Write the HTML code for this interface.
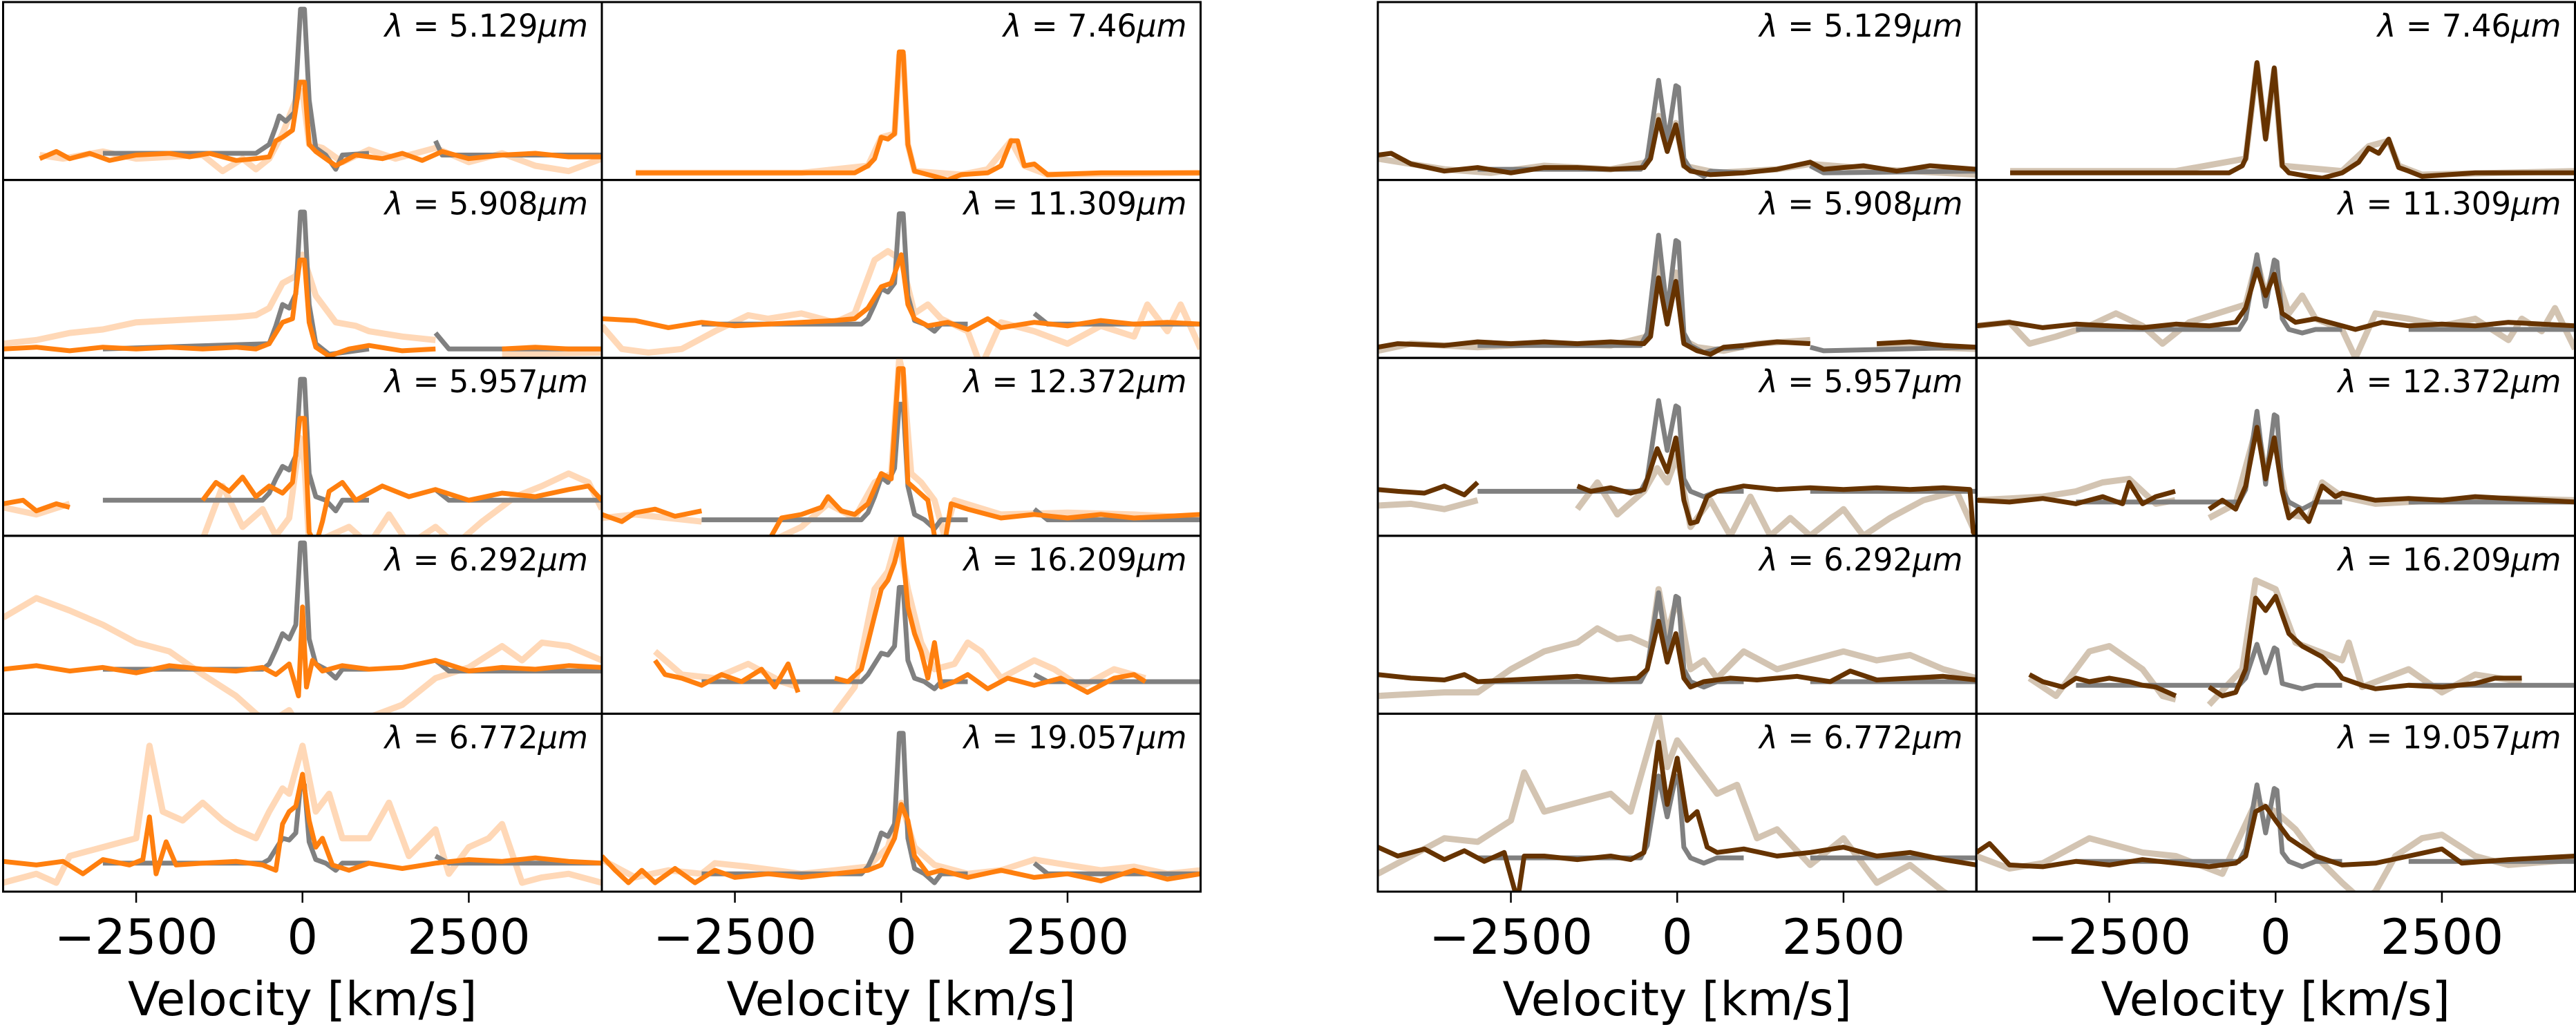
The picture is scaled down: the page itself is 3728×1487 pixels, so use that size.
<!DOCTYPE html>
<html><head><meta charset="utf-8"><title>Line profiles</title>
<style>
html,body{margin:0;padding:0;background:#fff;}
svg{display:block;}
text{font-family:"DejaVu Sans","Liberation Sans",sans-serif;fill:#000;}
</style></head>
<body>
<svg id="fig" xmlns="http://www.w3.org/2000/svg" width="3728" height="1487" viewBox="0 0 3728 1487"></svg>
<script>
// ---- axis tick data ----
const tickValues = [-2500, 0, 2500];
const tickLabels = ["\u22122500", "0", "2500"];
const velRange = [-4500, 4500];

// ---- labels ----
const labelsA = ["5.129", "5.908", "5.957", "6.292", "6.772"];
const labelsB = ["7.46", "11.309", "12.372", "16.209", "19.057"];

// ---- series data: [velocity km/s, relative flux % of panel height], null = gap ----
// Left group, column 1 (orange)
const gA0 = [[-3000,15],[-700,15],[-500,20],[-400,30],[-350,36],[-250,33],[-120,38],[-30,96],[30,96],[100,45],[200,18],[350,14],[500,6],[600,14],[1000,15],null,[2000,22],[2100,14],[4500,14]];
const oA0 = [[-3950,12],[-3700,16],[-3500,12],[-3200,15],[-2900,11],[-2500,14],[-2000,15],[-1700,13],[-1400,15],[-1000,11],[-700,12],[-500,13],[-400,22],[-300,24],[-150,28],[-40,55],[30,55],[100,20],[200,16],[500,8],[800,14],[1200,12],[1500,15],[1800,11],[2100,16],[2500,12],[3000,14],[3500,15],[4000,13],[4500,13]];
const lA0 = [[-3950,14],[-3600,12],[-3000,16],[-2500,12],[-1500,14],[-1200,5],[-900,12],[-700,6],[-500,12],[-300,26],[-100,45],[0,50],[100,20],[300,18],[600,10],[1000,17],[1400,12],[2000,18],[2500,10],[3000,15],[3500,8],[4000,5],[4500,12]];
const gA1 = [[-3000,5],[-500,8],[-400,18],[-300,30],[-200,28],[-100,36],[-30,82],[30,82],[100,30],[200,8],[400,2],[600,3],[1000,5],null,[2000,14],[2200,5],[4500,5]];
const oA1 = [[-4500,5],[-4000,6],[-3500,4],[-3000,6],[-2500,5],[-2000,6],[-1500,5],[-1000,6],[-700,5],[-500,8],[-300,20],[-150,22],[-40,55],[30,55],[100,20],[200,6],[400,1],[700,5],[1000,7],[1500,4],[2000,5],null,[3000,5],[3500,6],[4000,5],[4500,5]];
const lA1 = [[-4500,8],[-4000,10],[-3500,14],[-3000,16],[-2500,20],[-2000,21],[-1500,22],[-1000,23],[-700,24],[-500,28],[-300,42],[-100,46],[0,58],[200,35],[500,20],[800,18],[1000,15],[1500,12],[2000,10],null,[3000,2],[4500,3]];
const gA2 = [[-3000,20],[-600,20],[-500,24],[-400,32],[-300,39],[-200,37],[-100,45],[-30,88],[30,88],[100,35],[200,22],[350,20],[500,14],[600,20],[1000,20],null,[2000,26],[2200,20],[4500,20]];
const oA2 = [[-4500,18],[-4200,20],[-4000,14],[-3700,18],[-3500,16],null,[-1500,20],[-1300,30],[-1100,25],[-900,33],[-700,22],[-500,28],[-300,24],[-150,30],[-40,66],[30,66],[100,2],[200,-5],[300,8],[400,25],[600,30],[800,20],[1200,28],[1600,22],[2000,26],[2500,20],[3000,24],[3500,22],[4000,26],[4300,28],[4500,20]];
const lA2 = [[-4500,16],[-4000,12],[-3500,18],null,[-1500,-2],[-1200,28],[-900,5],[-600,15],[-400,0],[-200,10],[-40,55],[30,40],[100,-5],[400,0],[700,5],[1000,-5],[1300,12],[1600,-5],[2000,5],[2300,-5],[2700,8],[3200,22],[3600,28],[4000,35],[4300,30],[4500,15]];
const gA3 = [[-3000,25],[-600,25],[-500,28],[-400,36],[-300,45],[-200,42],[-100,50],[-30,96],[30,96],[100,42],[200,28],[350,25],[500,20],[600,25],[1000,25],null,[2000,30],[2200,24],[4500,24]];
const oA3 = [[-4500,25],[-4000,27],[-3500,24],[-3000,26],[-2500,23],[-2000,27],[-1500,25],[-1000,24],[-600,26],[-400,22],[-200,28],[-60,10],[0,60],[60,15],[150,30],[300,24],[600,27],[1000,25],[1500,26],[2000,30],[2500,24],[3000,26],[3500,25],[4000,27],[4500,26]];
const lA3 = [[-4500,54],[-4000,65],[-3500,58],[-3000,50],[-2500,40],[-2000,35],[-1500,22],[-1000,10],[-700,0],[-500,-5],[-200,2],[0,-10],[300,-5],[600,-5],[1000,-2],[1500,5],[2000,20],[2500,26],[3000,38],[3300,30],[3600,40],[4000,38],[4500,30]];
const gA4 = [[-3000,16],[-600,16],[-500,18],[-400,24],[-300,30],[-200,29],[-100,33],[-30,60],[30,60],[100,28],[200,18],[350,16],[500,12],[600,16],[1000,16],null,[2000,20],[2200,16],[4500,16]];
const oA4 = [[-4500,17],[-4000,15],[-3600,17],[-3300,10],[-3000,18],[-2600,15],[-2400,18],[-2300,42],[-2200,10],[-2050,28],[-1900,15],[-1500,16],[-1000,17],[-600,15],[-400,12],[-300,38],[-200,45],[-100,48],[0,66],[100,40],[200,25],[300,30],[450,15],[700,12],[1000,16],[1500,13],[2000,16],[2500,18],[3000,17],[3500,19],[4000,17],[4500,16]];
const lA4 = [[-4500,5],[-4000,10],[-3700,5],[-3500,20],[-3000,25],[-2700,28],[-2500,30],[-2300,82],[-2100,45],[-1800,40],[-1500,50],[-1200,40],[-1000,35],[-700,30],[-500,45],[-300,58],[-200,55],[0,82],[200,45],[400,55],[600,30],[1000,30],[1300,50],[1600,20],[2000,35],[2200,10],[2500,25],[2800,30],[3000,38],[3300,5],[3600,8],[4000,10],[4500,5]];

// Left group, column 2 (orange)
const oB0 = [[-3990,4],[-3000,4],[-1500,4],[-700,4],[-500,8],[-400,12],[-300,24],[-200,23],[-100,26],[-30,72],[30,72],[100,20],[200,5],[500,2],[700,0],[900,3],[1300,4],[1500,8],[1650,22],[1750,22],[1850,8],[2000,9],[2200,3],[3000,4],[4500,4]];
const lB0 = [[-3990,4],[-1500,4],[-500,8],[-300,24],[-100,26],[-30,70],[30,70],[100,20],[200,5],[900,3],[1300,6],[1650,22],[1850,8],[2200,3],[4500,4]];
const gB1 = [[-3000,19],[-600,19],[-500,22],[-400,30],[-300,39],[-200,37],[-100,42],[-30,81],[30,81],[100,35],[200,21],[350,19],[500,15],[600,19],[1000,19],null,[2000,25],[2200,19],[4500,19]];
const oB1 = [[-4500,22],[-4000,21],[-3500,17],[-3000,20],[-2500,18],[-2000,19],[-1500,20],[-1000,21],[-700,22],[-500,28],[-300,40],[-150,42],[0,58],[100,30],[200,22],[400,18],[700,20],[1000,16],[1300,22],[1500,17],[2000,20],[2500,18],[3000,21],[3500,19],[4000,20],[4500,19]];
const lB1 = [[-4500,18],[-4200,5],[-3800,3],[-3300,5],[-2800,15],[-2300,24],[-2000,22],[-1500,25],[-1000,20],[-700,25],[-400,55],[-200,60],[0,55],[200,25],[400,30],[600,22],[1000,15],[1200,-5],[1500,20],[2000,15],[2500,8],[3000,18],[3500,12],[3700,30],[4000,15],[4200,30],[4500,5]];
const gB2 = [[-3000,9],[-600,9],[-500,13],[-400,22],[-300,33],[-200,30],[-100,38],[-30,74],[30,74],[100,28],[200,12],[350,9],[500,4],[600,9],[1000,9],null,[2000,15],[2200,9],[4500,9]];
const oB2 = [[-4500,12],[-4200,8],[-4000,13],[-3700,15],[-3400,11],[-3000,14],null,[-1950,0],[-1800,10],[-1500,12],[-1200,16],[-1100,22],[-900,14],[-700,12],[-500,18],[-300,35],[-150,32],[-40,94],[30,94],[100,30],[250,25],[400,20],[500,0],[650,-5],[750,18],[1000,15],[1500,10],[2000,12],[2500,10],[3000,12],[3500,10],[4000,11],[4500,12]];
const lB2 = [[-4500,10],[-4000,12],[-3500,10],[-3000,8],null,[-1950,-3],[-1500,5],[-1100,18],[-700,10],[-400,30],[-150,35],[-30,100],[30,90],[150,35],[300,30],[500,20],[650,0],[800,20],[1500,12],[2500,13],[3500,12],[4500,10]];
const gB3 = [[-3000,18],[-600,18],[-500,22],[-400,28],[-300,34],[-200,33],[-100,38],[-30,71],[30,71],[100,30],[200,20],[350,18],[500,14],[600,18],[1000,18],null,[2000,22],[2200,18],[4500,18]];
const oB3 = [[-3700,30],[-3550,22],[-3300,20],[-3000,16],[-2700,22],[-2400,18],[-2100,25],[-1900,15],[-1700,28],[-1550,12],null,[-1000,20],[-800,18],[-600,25],[-400,55],[-300,70],[-200,75],[-100,85],[0,100],[100,60],[200,45],[300,35],[400,20],[500,40],[600,15],[800,18],[1000,22],[1300,14],[1600,20],[2000,16],[2400,20],[2800,12],[3200,20],[3500,22],[3670,18]];
const lB3 = [[-3700,35],[-3300,22],[-2800,20],[-2300,28],[-1800,18],[-1550,15],null,[-1000,0],[-700,15],[-400,70],[-200,80],[-50,100],[100,70],[300,40],[500,25],[800,28],[1000,40],[1200,35],[1500,20],[2000,30],[2300,25],[2700,15],[3200,25],[3670,20]];
const gB4 = [[-3000,10],[-600,10],[-500,14],[-400,22],[-300,33],[-200,31],[-100,38],[-30,89],[30,89],[100,30],[200,13],[350,10],[500,5],[600,10],[1000,10],null,[2000,16],[2200,10],[4500,10]];
const oB4 = [[-4500,20],[-4300,12],[-4100,5],[-3900,12],[-3700,5],[-3400,13],[-3100,5],[-2800,12],[-2500,8],[-2000,10],[-1500,8],[-1000,10],[-500,12],[-300,15],[-100,30],[0,49],[100,40],[200,20],[400,10],[600,12],[1000,8],[1500,12],[2000,8],[2500,10],[3000,6],[3500,12],[4000,7],[4500,10]];
const lB4 = [[-4500,18],[-4000,8],[-3500,12],[-3000,10],[-2800,16],[-2300,14],[-1500,10],[-1000,12],[-500,14],[-200,25],[0,50],[200,25],[500,15],[1000,10],[1500,12],[2000,18],[2500,15],[3000,12],[3500,14],[4000,10],[4500,12]];

// Right group, column 1 (brown)
const gC0 = [[-3000,6],[-550,6],[-450,12],[-280,56],[-150,21],[-20,53],[20,52],[100,12],[200,6],[400,2],[500,5],[1000,4],null,[2000,8],[2200,4],[4500,5]];
const bC0 = [[-4500,14],[-4300,15],[-4000,9],[-3500,5],[-3000,7],[-2500,4],[-2000,7],[-1500,7],[-1000,6],[-500,7],[-400,12],[-280,34],[-150,16],[-20,31],[100,8],[200,5],[500,3],[1000,4],[1500,6],[2000,10],[2200,6],[2800,8],[3300,5],[3800,8],[4500,6]];
const lC0 = [[-4500,12],[-3500,6],[-2800,4],[-2000,8],[-1000,6],[-450,10],[-280,36],[-150,18],[-20,32],[100,8],[600,4],[1500,6],[2000,9],[3000,6],[4000,4],[4500,3]];
const gC1 = [[-3000,7],[-550,7],[-450,14],[-280,69],[-150,25],[-20,66],[20,65],[100,14],[200,7],[400,3],[600,5],[1000,6],null,[2000,6],[2200,4],[4500,6]];
const bC1 = [[-4500,6],[-4200,8],[-3500,7],[-3000,9],[-2500,8],[-2000,9],[-1500,8],[-1000,9],[-500,8],[-400,12],[-280,45],[-150,19],[-20,43],[100,8],[300,4],[500,2],[700,6],[1000,7],[1500,9],[2000,8],null,[3000,8],[3500,9],[4000,7],[4500,6]];
const lC1 = [[-4500,4],[-4000,8],[-3000,6],[-2000,8],[-1000,7],[-450,12],[-280,55],[-150,22],[-20,48],[100,10],[300,6],[700,4],[1200,8],[2000,10],null,[3000,7],[4500,5]];
const gC2 = [[-3000,25],[-550,25],[-450,32],[-280,76],[-150,48],[-20,73],[20,72],[100,32],[200,25],[400,22],[600,25],[1000,25],null,[2000,25],[4500,25]];
const bC2 = [[-4500,26],[-4200,25],[-3800,24],[-3500,28],[-3200,23],[-3000,30],null,[-1500,28],[-1300,25],[-1000,27],[-700,24],[-500,26],[-300,49],[-150,36],[-20,55],[100,20],[200,7],[300,8],[450,22],[600,25],[1000,28],[1500,26],[2000,27],[2500,26],[3000,27],[3500,26],[4000,27],[4400,26],[4450,2],[4500,0]];
const lC2 = [[-4500,17],[-4000,18],[-3500,15],[-3000,20],null,[-1500,15],[-1200,30],[-900,12],[-500,25],[-300,38],[-150,30],[0,45],[200,5],[500,20],[800,0],[1100,22],[1400,0],[1700,10],[2000,0],[2500,15],[2800,0],[3200,10],[3700,20],[4200,25],[4500,0]];
const gC3 = [[-3000,18],[-550,18],[-450,25],[-280,68],[-150,34],[-20,66],[20,65],[100,25],[200,18],[400,15],[600,18],[1000,18],null,[2000,18],[4500,18]];
const bC3 = [[-4500,22],[-4000,20],[-3500,19],[-3200,22],[-3000,18],[-2500,19],[-2000,20],[-1500,21],[-1000,19],[-600,20],[-450,25],[-280,52],[-150,29],[-20,45],[100,20],[200,15],[400,18],[800,20],[1200,19],[1800,21],[2300,18],[2600,24],[3000,19],[3500,20],[4000,21],[4500,19]];
const lC3 = [[-4500,10],[-3500,12],[-3000,12],[-2500,25],[-2000,35],[-1500,40],[-1200,48],[-900,42],[-700,43],[-400,38],[-280,70],[-150,45],[0,65],[200,25],[400,30],[600,20],[1000,35],[1500,25],[2000,30],[2500,35],[3000,30],[3500,33],[4000,25],[4500,20]];
const gC4 = [[-3000,19],[-550,19],[-450,26],[-280,65],[-150,42],[-20,65],[20,64],[100,25],[200,19],[400,16],[600,19],[1000,19],null,[2000,19],[4500,19]];
const bC4 = [[-4500,25],[-4200,20],[-3800,24],[-3500,18],[-3200,23],[-2900,17],[-2600,22],[-2400,-5],[-2300,20],[-2000,20],[-1500,18],[-1000,20],[-700,18],[-500,22],[-280,84],[-150,49],[0,75],[150,40],[300,45],[450,25],[600,22],[1000,24],[1500,20],[2000,22],[2500,25],[3000,20],[3500,22],[4000,18],[4500,15]];
const lC4 = [[-4500,10],[-4000,20],[-3500,30],[-3000,28],[-2500,40],[-2300,67],[-2000,45],[-1500,50],[-1000,55],[-700,45],[-280,100],[-150,70],[0,85],[300,70],[600,55],[900,60],[1200,30],[1500,35],[2000,15],[2500,30],[3000,5],[3500,15],[4000,0],[4500,-10]];

// Right group, column 2 (brown)
const bD0 = [[-3990,4],[-3000,4],[-1500,4],[-700,4],[-500,8],[-450,12],[-280,66],[-150,23],[-20,63],[100,8],[200,4],[500,2],[700,1],[1000,4],[1250,10],[1400,18],[1550,15],[1700,23],[1850,7],[2000,5],[2200,2],[3000,4],[4500,4]];
const lD0 = [[-3990,5],[-1500,5],[-450,12],[-280,65],[-150,24],[-20,62],[100,8],[1000,5],[1400,19],[1700,22],[1850,8],[2200,3],[4500,5]];
const gD1 = [[-3000,16],[-550,16],[-450,22],[-280,58],[-150,29],[-20,55],[20,54],[100,22],[200,16],[400,14],[600,16],[1000,16],null,[2000,16],[4500,16]];
const bD1 = [[-4500,18],[-4000,20],[-3500,17],[-3000,19],[-2500,18],[-2000,17],[-1500,19],[-1000,18],[-600,20],[-450,28],[-280,50],[-150,35],[-20,47],[100,25],[300,20],[600,22],[1000,18],[1200,16],[1600,20],[2000,18],[2500,19],[3000,18],[3500,20],[4000,19],[4500,18]];
const lD1 = [[-4500,18],[-4000,20],[-3700,8],[-3300,12],[-2800,18],[-2400,25],[-2000,18],[-1700,8],[-1300,20],[-450,30],[-280,55],[-150,35],[-20,50],[200,25],[400,35],[600,22],[1000,16],[1200,0],[1500,25],[2000,22],[2500,18],[3000,22],[3500,10],[3700,22],[4000,15],[4200,28],[4500,5]];
const gD2 = [[-3000,19],[-550,19],[-450,26],[-280,70],[-150,29],[-20,68],[20,67],[100,26],[200,19],[400,15],[600,19],[1000,19],null,[2000,19],[4500,19]];
const bD2 = [[-4500,20],[-4000,19],[-3500,21],[-3000,18],[-2600,22],[-2300,18],[-2200,30],[-2000,18],[-1800,22],[-1510,25],null,[-1000,15],[-800,20],[-600,15],[-450,28],[-280,61],[-150,32],[-20,55],[100,25],[200,10],[350,15],[500,8],[700,28],[900,22],[1000,24],[1500,20],[2000,21],[2500,20],[3000,22],[3500,21],[4000,20],[4500,19]];
const lD2 = [[-4500,20],[-3500,22],[-3000,25],[-2600,30],[-2200,32],[-1800,18],[-1510,20],null,[-1000,10],[-600,18],[-280,62],[-150,35],[-20,55],[200,12],[500,10],[700,30],[1000,22],[1500,18],[2500,20],[3500,21],[4500,20]];
const gD3 = [[-3000,16],[-550,16],[-450,20],[-280,39],[-150,23],[-20,37],[20,36],[100,17],[200,16],[400,14],[600,16],[1000,16],null,[2000,16],[4500,16]];
const bD3 = [[-3700,22],[-3500,18],[-3200,15],[-3000,20],[-2800,18],[-2500,20],[-2200,18],[-2000,16],[-1800,15],[-1500,10],null,[-1000,15],[-800,10],[-600,12],[-450,25],[-300,65],[-150,58],[0,66],[200,45],[400,38],[700,32],[900,25],[1000,20],[1300,16],[1500,14],[2000,16],[2500,15],[3000,17],[3300,20],[3700,20]];
const lD3 = [[-3700,20],[-3300,10],[-2800,35],[-2500,38],[-2000,25],[-1700,10],[-1500,8],null,[-1000,5],[-500,25],[-300,75],[0,70],[300,40],[1000,30],[1100,40],[1300,15],[2000,25],[2500,12],[3000,22],[3700,18]];
const gD4 = [[-3000,17],[-550,17],[-450,24],[-280,60],[-150,33],[-20,58],[20,57],[100,22],[200,17],[400,14],[600,17],[1000,17],null,[2000,17],[4500,17]];
const bD4 = [[-4500,22],[-4300,27],[-4000,15],[-3500,14],[-3000,17],[-2500,15],[-2000,18],[-1500,16],[-1000,14],[-600,16],[-450,20],[-300,45],[-150,48],[0,40],[200,30],[400,25],[600,20],[1000,15],[1500,16],[2000,20],[2500,24],[2800,16],[3500,18],[4500,20]];
const lD4 = [[-4500,20],[-4000,13],[-3500,16],[-2800,30],[-2500,27],[-2000,22],[-1500,20],[-800,10],[-300,50],[0,45],[300,35],[600,20],[1000,5],[1300,-5],[1500,0],[1800,20],[2200,30],[2500,32],[3000,20],[3500,15],[4500,18]];

// ---- layout ----
const colX = [4.5, 871, 1994, 2860];
const colW = 866.5;
const rowY0 = 3, rowH = 257.6;
const ORANGE = "#ff7f0e", LORANGE = "#ffd8b7", BROWN = "#663300", LBROWN = "#d3c4b2", GRAY = "#808080";

const panelDefs = [
  [0,0,labelsA[0],lA0,gA0,oA0],[0,1,labelsA[1],lA1,gA1,oA1],[0,2,labelsA[2],lA2,gA2,oA2],[0,3,labelsA[3],lA3,gA3,oA3],[0,4,labelsA[4],lA4,gA4,oA4],
  [1,0,labelsB[0],lB0,null,oB0],[1,1,labelsB[1],lB1,gB1,oB1],[1,2,labelsB[2],lB2,gB2,oB2],[1,3,labelsB[3],lB3,gB3,oB3],[1,4,labelsB[4],lB4,gB4,oB4],
  [2,0,labelsA[0],lC0,gC0,bC0],[2,1,labelsA[1],lC1,gC1,bC1],[2,2,labelsA[2],lC2,gC2,bC2],[2,3,labelsA[3],lC3,gC3,bC3],[2,4,labelsA[4],lC4,gC4,bC4],
  [3,0,labelsB[0],lD0,null,bD0],[3,1,labelsB[1],lD1,gD1,bD1],[3,2,labelsB[2],lD2,gD2,bD2],[3,3,labelsB[3],lD3,gD3,bD3],[3,4,labelsB[4],lD4,gD4,bD4]
];

const NS = "http://www.w3.org/2000/svg";
const svg = document.getElementById("fig");
function mk(tag, attrs, parent) {
  const e = document.createElementNS(NS, tag);
  for (const k in attrs) e.setAttribute(k, attrs[k]);
  (parent || svg).appendChild(e);
  return e;
}
function xScale(col, v) { return colX[col] + (v - velRange[0]) / (velRange[1] - velRange[0]) * colW; }
function yScale(row, p) { return rowY0 + (row + 1) * rowH - p / 100 * rowH; }
function pathFor(col, row, data) {
  let d = "", pen = false;
  for (const pt of data) {
    if (pt === null) { pen = false; continue; }
    d += (pen ? "L" : "M") + xScale(col, pt[0]).toFixed(1) + "," + yScale(row, pt[1]).toFixed(1);
    pen = true;
  }
  return d;
}

const defs = mk("defs", {});
panelDefs.forEach((p, i) => {
  const [col, row, lab, light, gray, main] = p;
  const x0 = colX[col], y0 = rowY0 + row * rowH;
  const cp = mk("clipPath", {id: "cp" + i}, defs);
  mk("rect", {x: x0, y: y0, width: colW, height: rowH}, cp);
  const g = mk("g", {"clip-path": "url(#cp" + i + ")"});
  
  
  const isLeft = col < 2;
  if (light) {
    const e = mk("path", {d: pathFor(col, row, light), fill: "none", stroke: isLeft ? LORANGE : LBROWN, "stroke-width": 9, "stroke-linejoin": "round"}, g);
    
    
  }
  if (gray) {
    const e = mk("path", {d: pathFor(col, row, gray), fill: "none", stroke: GRAY, "stroke-width": 7, "stroke-linejoin": "round"}, g);
    
    
  }
  const m = mk("path", {d: pathFor(col, row, main), fill: "none", stroke: isLeft ? ORANGE : BROWN, "stroke-width": 7, "stroke-linejoin": "round"}, g);
  
  

  const fr = mk("rect", {x: x0, y: y0, width: colW, height: rowH, fill: "none", stroke: "#000", "stroke-width": 3});
  
  

  const t = mk("text", {x: x0 + colW - 20, y: y0 + 50, "text-anchor": "end", "font-size": 45});
  
  
  const s1 = mk("tspan", {"font-style": "italic"}, t); s1.textContent = "\u03bb";
  const s2 = mk("tspan", {}, t); s2.textContent = " = " + lab;
  const s3 = mk("tspan", {"font-style": "italic"}, t); s3.textContent = "\u03bcm";
});

// x axes
const yBottom = rowY0 + 5 * rowH;
for (let col = 0; col < 4; col++) {
  tickValues.forEach((v, k) => {
    const x = xScale(col, v);
    const tk = mk("line", {x1: x, x2: x, y1: yBottom, y2: yBottom + 16, stroke: "#000", "stroke-width": 2.5});
    
    
    const tl = mk("text", {x: x, y: yBottom + 90, "text-anchor": "middle", "font-size": 70});
    tl.textContent = tickLabels[k];
    
    
  });
  const at = mk("text", {x: colX[col] + colW / 2, y: 1470, "text-anchor": "middle", "font-size": 68});
  at.textContent = "Velocity [km/s]";
  
  
}
</script>
</body></html>
